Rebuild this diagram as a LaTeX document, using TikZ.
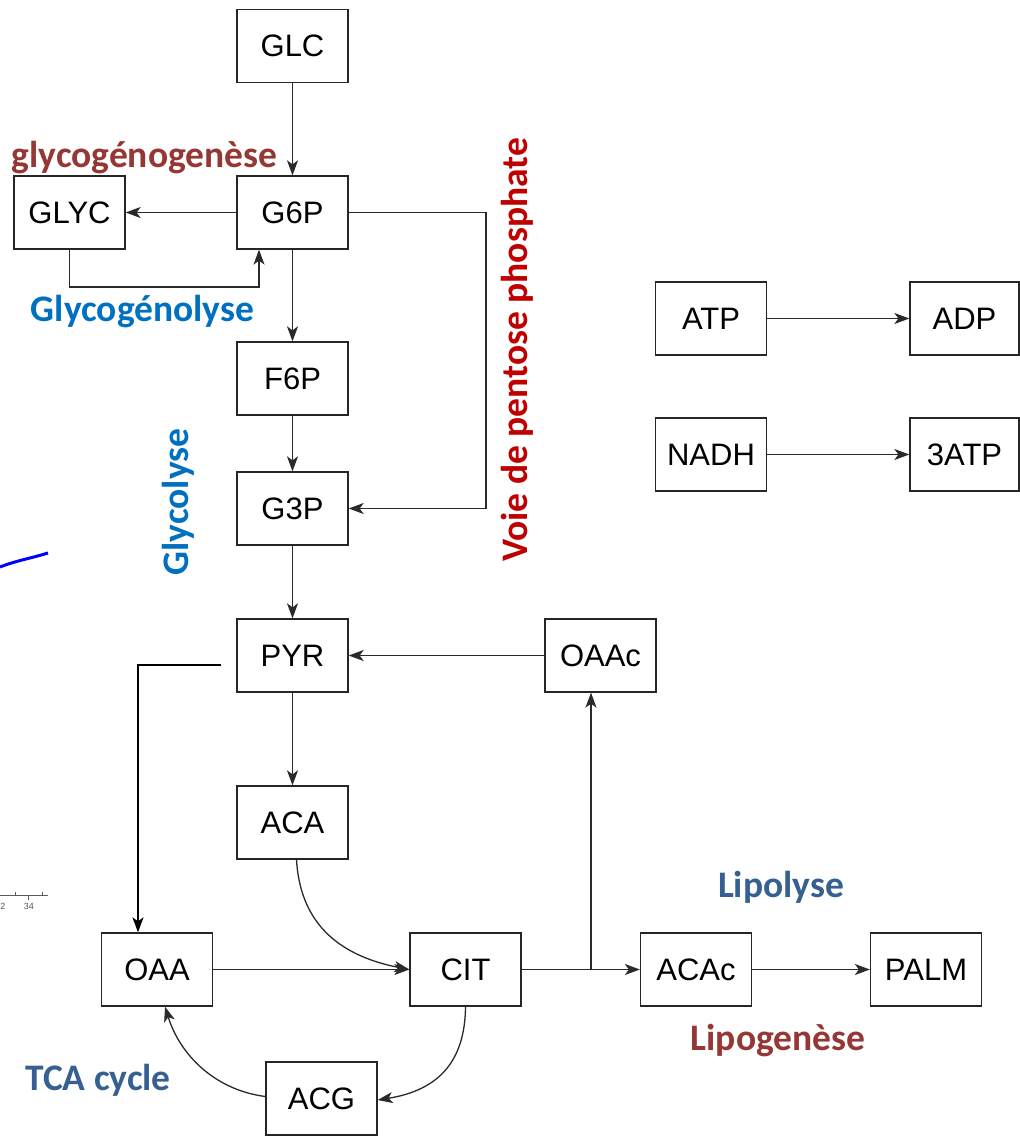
\documentclass[tikz,border=0pt]{standalone}
\usepackage{fontspec}
\setmainfont{Liberation Sans}
\newfontfamily\lblfont{Carlito}
\usetikzlibrary{arrows.meta,calc}
\definecolor{linegray}{HTML}{2A2A2A}
\definecolor{darkred}{HTML}{953735}
\definecolor{brightred}{HTML}{C00000}
\definecolor{lblue}{HTML}{0070C0}
\definecolor{steelblue}{HTML}{376092}
\begin{document}
\begin{tikzpicture}[x=1pt,y=-1pt,
  box/.style={draw=black!85,line width=1.3pt,minimum width=111pt,minimum height=73pt,inner sep=0pt,
    font=\fontsize{31}{35}\selectfont},
  conn/.style={draw=linegray,line width=1.3pt,-{Stealth[length=15pt,width=11pt,inset=4pt]}},
  lbl/.style={font=\lblfont\bfseries\fontsize{37.5}{42}\selectfont,inner sep=0pt}
]
\useasboundingbox (0,0) rectangle (1019,1139);
\fill[white] (0,0) rectangle (1019,1139);

% nodes
\node[box] (GLC)  at (292.5,46)   {GLC};
\node[box] (G6P)  at (292.5,212.5) {G6P};
\node[box] (GLYC) at (69.5,212.5) {GLYC};
\node[box] (F6P)  at (292.5,378.5) {F6P};
\node[box] (G3P)  at (292.5,508.5) {G3P};
\node[box] (PYR)  at (292.5,655.5) {PYR};
\node[box] (OAAc) at (600.5,655.5) {OAAc};
\node[box] (ACA)  at (292.5,822.5) {ACA};
\node[box] (OAA)  at (157,969.5)   {OAA};
\node[box] (CIT)  at (465.5,969.5) {CIT};
\node[box] (ACAc) at (696,969.5)   {ACAc};
\node[box] (PALM) at (926,969.5)   {PALM};
\node[box] (ACG)  at (321.5,1098.5) {ACG};
\node[box] (ATP)  at (711,318.5)   {ATP};
\node[box] (NADH) at (711,454.5)   {NADH};
\node[box,minimum width=109pt] (ADP)  at (964.5,318.5) {ADP};
\node[box,minimum width=109pt] (TATP) at (964.5,454.5) {3ATP};

% connectors
\draw[conn] (GLC) -- (G6P);
\draw[conn] (G6P) -- (GLYC);
\draw[conn] (GLYC.south) |- (259,287) -- (G6P.south -| 259,0);
\draw[conn] (G6P) -- (F6P);
\draw[conn] (G6P.east) -- (486,212.5) |- (G3P.east);
\draw[conn] (F6P) -- (G3P);
\draw[conn] (G3P) -- (PYR);
\draw[conn] (PYR) -- (ACA);
\draw[conn] (OAAc) -- (PYR);
\coordinate (pyrout) at ($(PYR.west)+(-15,9.5)$);
\draw[conn,line width=1.7pt,draw=black] (pyrout) -- (138,665) -- (OAA.north -| 138,0);
\draw[conn] ($(ACA.south)+(4,0)$) .. controls (300,920) and (335,955) .. (CIT.west);
\draw[conn] (OAA) -- (CIT);
\draw[conn] (CIT) -- (ACAc);
\coordinate (branch) at (591,969.5);
\draw[conn] (branch) -- (OAAc.south -| branch);
\draw[conn] (ACAc) -- (PALM);
\draw[conn] (CIT.south) .. controls (465,1060) and (440,1090) .. ($(ACG.east)+(0,1.5)$);
\draw[conn] ($(ACG.west)+(0,-2)$) .. controls (215,1090) and (180,1055) .. ($(OAA.south)+(8,0)$);
\draw[conn] (ATP) -- (ADP);
\draw[conn] (NADH) -- (TATP);

% labels
\node[lbl,text=darkred] (lglyg) at (144.5,158) {glycogénogenèse};
\node[lbl,text=lblue] (lglyl) at (142.5,312) {Glycogénolyse};
\node[lbl,text=lblue,rotate=90] (lglyc) at (178,502) {Glycolyse};
\node[lbl,text=brightred,rotate=90] (lppp) at (517,350) {Voie de pentose phosphate};
\node[lbl,text=steelblue] (llipo) at (781,887) {Lipolyse};
\node[lbl,text=darkred] (llipg) at (778,1041) {Lipogenèse};
\node[lbl,text=steelblue] (ltca) at (98,1080) {TCA cycle};

% stray fragments at the left edge
\draw[blue,line width=3pt] (0,567) .. controls (15,561) and (32,558) .. (48,553);
\draw[gray!70!black,line width=0.8pt] (0,895) -- (48,895);
\draw[gray!70!black,line width=0.8pt] (15,895) -- (15,892);
\draw[gray!70!black,line width=0.8pt] (28,895) -- (28,900);
\draw[gray!70!black,line width=0.8pt] (42,895) -- (42,892);
\node[font=\fontsize{9}{10}\selectfont,text=gray!70!black,inner sep=0pt] (t2) at (3,906) {2};
\node[font=\fontsize{9}{10}\selectfont,text=gray!70!black,inner sep=0pt] (t34) at (29,906) {34};
\end{tikzpicture}
\end{document}
